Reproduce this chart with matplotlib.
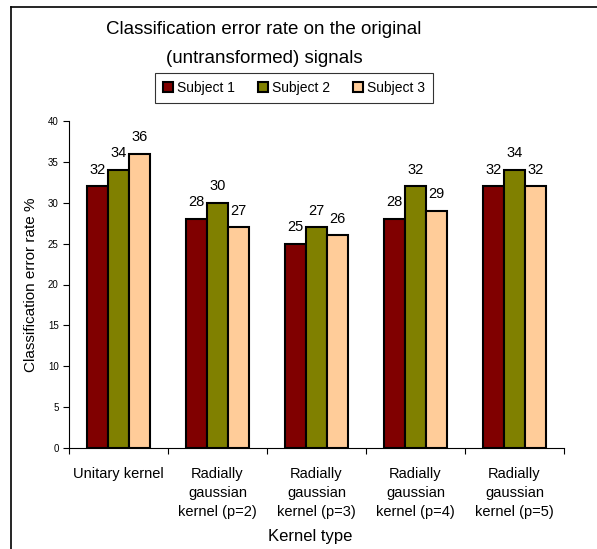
import numpy as np
import matplotlib.pyplot as plt
from matplotlib.lines import Line2D

plt.rcParams['font.family'] = ['Liberation Sans', 'DejaVu Sans']

# --- Data ---
categories = ["Unitary kernel",
              "Radially\ngaussian\nkernel (p=2)",
              "Radially\ngaussian\nkernel (p=3)",
              "Radially\ngaussian\nkernel (p=4)",
              "Radially\ngaussian\nkernel (p=5)"]
subjects = ["Subject 1", "Subject 2", "Subject 3"]
subject1 = [32, 28, 25, 28, 32]
subject2 = [34, 30, 27, 32, 34]
subject3 = [36, 27, 26, 29, 32]
colors = ["#800000", "#808000", "#FFCC99"]

fig = plt.figure(figsize=(5.97, 5.49), dpi=100)
ax = fig.add_axes([69 / 597, 1 - 448 / 549, (564 - 69) / 597, (448 - 121) / 549])

x = np.arange(len(categories))
w = 0.215
for i, (vals, lab) in enumerate(zip([subject1, subject2, subject3], subjects)):
    bars = ax.bar(x + (i - 1) * w, vals, w, color=colors[i], edgecolor="black",
                  linewidth=1.5, label=lab, zorder=2)
    for b, v in zip(bars, vals):
        ax.annotate(str(v), (b.get_x() + b.get_width() / 2, v), xytext=(0, 7),
                    textcoords="offset points", ha="center", va="bottom", fontsize=10.5)

ax.set_xlim(-0.5, len(categories) - 0.5)
ax.set_ylim(0, 40)
ax.set_yticks(np.arange(0, 41, 5))
ax.tick_params(axis="y", labelsize=7, length=4, width=0.8, direction="out")

# category labels centred, tick marks at category boundaries
ax.set_xticks(x)
ax.set_xticklabels(categories, fontsize=10.5, linespacing=1.45)
ax.tick_params(axis="x", which="major", length=0, pad=14)
ax.set_xticks(np.arange(-0.5, len(categories)), minor=True)
ax.tick_params(axis="x", which="minor", length=4, width=0.8, direction="out")

for s in ["top", "right"]:
    ax.spines[s].set_visible(False)
for s in ["left", "bottom"]:
    ax.spines[s].set_linewidth(0.8)

ax.set_ylabel("Classification error rate %", fontsize=11, labelpad=7)
fig.text(310 / 597, 1 - 537 / 549, "Kernel type", fontsize=12, ha="center", va="center")

fig.text(264 / 597, 1 - 44 / 549, "Classification error rate on the original\n(untransformed) signals",
         fontsize=13.5, ha="center", va="center", linespacing=1.85)

leg = fig.legend(loc="center", bbox_to_anchor=(294 / 597, 1 - 88 / 549), ncol=3, fontsize=10,
                 frameon=True, fancybox=False, edgecolor="black", handlelength=0.75,
                 handleheight=0.75, handletextpad=0.3, columnspacing=1.6, borderpad=0.55)
leg.get_frame().set_linewidth(0.8)
for h in leg.legend_handles:
    h.set_linewidth(1.5)

# chart border (top and left)
fig.add_artist(Line2D([11 / 597, 1], [1 - 7 / 549, 1 - 7 / 549], color="black", lw=1.2))
fig.add_artist(Line2D([11 / 597, 11 / 597], [0, 1 - 7 / 549], color="black", lw=1.2))

fig.savefig("out.png", dpi=100)
